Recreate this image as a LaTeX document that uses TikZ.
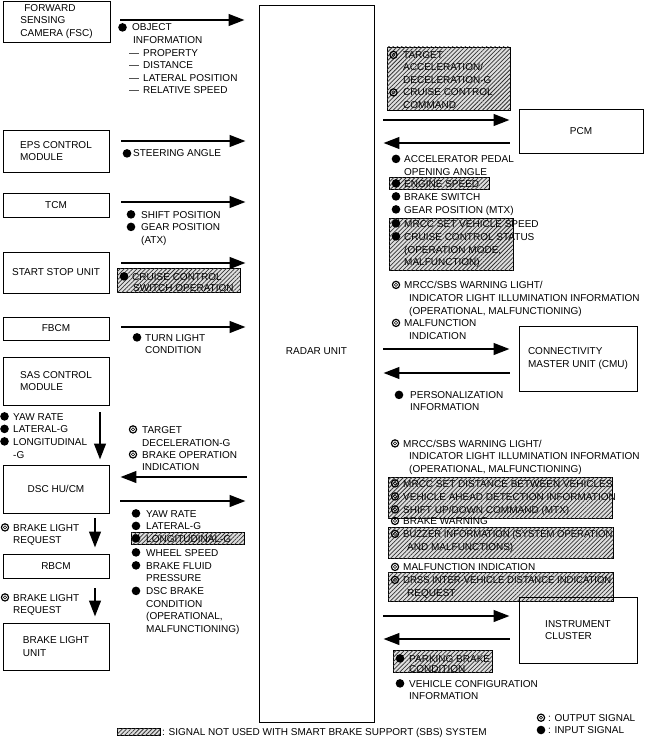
\documentclass[tikz,border=0pt]{standalone}
\usepackage{fontspec}
\usepackage{graphicx}
\setmainfont{Liberation Sans}
\usetikzlibrary{arrows.meta,patterns.meta}
\tikzset{
  box/.style={draw, line width=0.8pt, align=left, inner sep=0pt, font=\fontsize{10}{12.5}\selectfont},
  sig/.style={anchor=base west, inner sep=0pt, font=\fontsize{10}{12}\selectfont},
  arr/.style={line width=2.6pt, -{Triangle[length=16pt,width=11.5pt]}},
  hatch/.style={draw, line width=0.6pt, fill=gray!25,
    postaction={pattern={Lines[angle=45,distance=3pt,line width=0.75pt]}, pattern color=black!80}},
}
\newcommand\IB[2]{\fill (#1,#2-3.6) circle (4.3pt);}
\newcommand\OB[2]{\draw[line width=1.2pt] (#1,#2-3.6) circle (3.6pt);\draw[line width=0.6pt] (#1,#2-3.6) circle (1.6pt);}
\newcommand\TL[4]{\node[sig] (#1) at (#2,#3) {#4};}
\begin{document}
\begin{tikzpicture}[x=1pt,y=-1pt]
\useasboundingbox (0,0) rectangle (650,741);

% ---------- hatched areas (drawn first) ----------
\draw[hatch] (117,268) rectangle (240,292);
\draw[hatch] (131,532) rectangle (244,544);
\draw[hatch] (387,47) rectangle (510,110);
\draw[hatch] (389,177) rectangle (489,189);
\draw[hatch] (389,218) rectangle (513,270);
\draw[hatch] (388,477) rectangle (612,518);
\draw[hatch] (388,527) rectangle (613,558);
\draw[hatch] (388,572) rectangle (613,601);
\draw[hatch] (393,650) rectangle (492,672);
\draw[hatch] (117,728) rectangle (160,735);

% ---------- boxes ----------
\node[box, minimum width=107pt, minimum height=41pt] (fsc) at (56.5,21.5) {\hspace*{4pt}FORWARD\\SENSING\\CAMERA (FSC)};
\node[box, minimum width=106pt, minimum height=42pt] (eps) at (56,151) {EPS CONTROL\\MODULE};
\node[box, minimum width=106pt, minimum height=24pt] (tcm) at (56,205) {TCM};
\node[box, minimum width=106pt, minimum height=41pt] (ssu) at (56,272.5) {START STOP UNIT};
\node[box, minimum width=106pt, minimum height=23pt] (fbcm) at (56,328.5) {FBCM};
\node[box, minimum width=106pt, minimum height=48pt] (sas) at (56,381) {SAS CONTROL\\MODULE};
\node[box, minimum width=106pt, minimum height=48pt] (dsc) at (56,489) {DSC HU/CM};
\node[box, minimum width=106pt, minimum height=24pt] (rbcm) at (56,566) {RBCM};
\node[box, minimum width=106pt, minimum height=47pt] (blu) at (56,646.5) {BRAKE LIGHT\\UNIT};
\node[box, minimum width=115pt, minimum height=717pt] (radar) at (316.5,363.5) {};
\node[sig, anchor=center] (radarlbl) at (316.5,351) {RADAR UNIT};
\node[box, minimum width=124pt, minimum height=44pt] (pcm) at (581,131) {PCM};
\node[box, minimum width=118pt, minimum height=65pt] (cmu) at (578,358.5) {CONNECTIVITY\\MASTER UNIT (CMU)};
\node[box, minimum width=118pt, minimum height=66pt] (ic) at (578,630) {INSTRUMENT\\CLUSTER};

% ---------- arrows ----------
\draw[arr, shorten <=10pt, shorten >=14pt] (fsc.east |- 0,20) -- (radar.west |- 0,20);
\draw[arr, shorten <=12pt, shorten >=13pt] (eps.east |- 0,141) -- (radar.west |- 0,141);
\draw[arr, shorten <=12pt, shorten >=13pt] (tcm.east |- 0,202) -- (radar.west |- 0,202);
\draw[arr, shorten <=12pt, shorten >=13pt] (ssu.east |- 0,263) -- (radar.west |- 0,263);
\draw[arr, shorten <=12pt, shorten >=13pt] (fbcm.east |- 0,327) -- (radar.west |- 0,327);
\draw[arr, shorten <=12pt, shorten >=11pt] (radar.west |- 0,477) -- (dsc.east |- 0,477);
\draw[arr, shorten <=11pt, shorten >=13pt] (dsc.east |- 0,501) -- (radar.west |- 0,501);
\draw[arr, shorten <=7pt, shorten >=5pt] (sas.south -| 100,0) -- (dsc.north -| 100,0);
\draw[arr, shorten <=5pt, shorten >=6pt] (dsc.south -| 95,0) -- (rbcm.north -| 95,0);
\draw[arr, shorten <=10pt, shorten >=6pt] (rbcm.south -| 95,0) -- (blu.north -| 95,0);
\draw[arr, shorten <=9pt, shorten >=9pt] (radar.east |- 0,120) -- (pcm.west |- 0,120);
\draw[arr, shorten <=9pt, shorten >=9pt] (pcm.west |- 0,143) -- (radar.east |- 0,143);
\draw[arr, shorten <=9pt, shorten >=9pt] (radar.east |- 0,349) -- (cmu.west |- 0,349);
\draw[arr, shorten <=9pt, shorten >=9pt] (cmu.west |- 0,373) -- (radar.east |- 0,373);
\draw[arr, shorten <=9pt, shorten >=9pt] (radar.east |- 0,616) -- (ic.west |- 0,616);
\draw[arr, shorten <=9pt, shorten >=9pt] (ic.west |- 0,639) -- (radar.east |- 0,639);

% ---------- FSC signals ----------
\IB{122.5}{31}
\TL{f1}{132}{31}{OBJECT}
\TL{f2}{133}{43.5}{INFORMATION}
\TL{f3}{129}{56.5}{—\hspace{4pt}PROPERTY}
\TL{f4}{129}{69}{—\hspace{4pt}DISTANCE}
\TL{f5}{129}{81.5}{—\hspace{4pt}LATERAL POSITION}
\TL{f6}{129}{94}{—\hspace{4pt}RELATIVE SPEED}
% EPS
\IB{127}{157}
\TL{e1}{133}{157}{STEERING ANGLE}
% TCM
\IB{131}{218}\TL{t1}{141}{218}{SHIFT POSITION}
\IB{131}{230.5}\TL{t2}{141}{230.5}{GEAR POSITION}
\TL{t3}{141}{243}{(ATX)}
% SSU
\IB{124}{280}\TL{s1}{132}{280}{CRUISE CONTROL}
\TL{s2}{133}{291}{SWITCH OPERATION}
% FBCM
\IB{137}{341}\TL{b1}{145}{341}{TURN LIGHT}
\TL{b2}{145}{353.5}{CONDITION}
% SAS -> DSC
\IB{4.5}{420}\TL{y1}{13}{420}{YAW RATE}
\IB{4.5}{432.5}\TL{y2}{13}{432.5}{LATERAL-G}
\IB{4.5}{445}\TL{y3}{13}{445}{LONGITUDINAL}
\TL{y4}{13}{458}{-G}
% Radar -> DSC
\OB{133}{433}\TL{r1}{142}{433}{TARGET}
\TL{r2}{142}{446}{DECELERATION-G}
\OB{133}{458}\TL{r3}{142}{458}{BRAKE OPERATION}
\TL{r4}{142}{470}{INDICATION}
% DSC -> Radar
\IB{136}{517}\TL{d1}{146}{517}{YAW RATE}
\IB{136}{529.5}\TL{d2}{146}{529.5}{LATERAL-G}
\IB{136}{542}\TL{d3}{146}{542}{LONGITUDINAL-G}
\IB{136}{556}\TL{d4}{146}{556}{WHEEL SPEED}
\IB{136}{569}\TL{d5}{146}{569}{BRAKE FLUID}
\TL{d6}{146}{581.5}{PRESSURE}
\IB{136}{594.5}\TL{d7}{146}{594.5}{DSC BRAKE}
\TL{d8}{146}{607}{CONDITION}
\TL{d9}{146}{619.5}{(OPERATIONAL,}
\TL{d10}{146}{632}{MALFUNCTIONING)}
% DSC -> RBCM, RBCM -> BLU
\OB{5}{531}\TL{q1}{13}{531}{BRAKE LIGHT}
\TL{q2}{13}{543.5}{REQUEST}
\OB{5}{601}\TL{q3}{13}{601}{BRAKE LIGHT}
\TL{q4}{13}{613.5}{REQUEST}

% ---------- Radar -> PCM ----------
\OB{393.5}{58.5}\TL{p1}{403}{58.5}{TARGET}
\TL{p2}{403}{71}{ACCELERATION/}
\TL{p3}{403}{83.5}{DECELERATION-G}
\OB{393.5}{96}\TL{p4}{403}{96}{CRUISE CONTROL}
\TL{p5}{403}{108.5}{COMMAND}
% PCM -> Radar
\IB{396}{162.5}\TL{g1}{404}{162.5}{ACCELERATOR PEDAL}
\TL{g2}{404}{175}{OPENING ANGLE}
\IB{396}{187}\TL{g3}{404}{187}{ENGINE SPEED}
\IB{396}{200}\TL{g4}{404}{200}{BRAKE SWITCH}
\IB{396}{213}\TL{g5}{404}{213}{GEAR POSITION (MTX)}
\IB{396}{227}\TL{g6}{404}{227}{MRCC SET VEHICLE SPEED}
\IB{396}{240}\TL{g7}{404}{240}{CRUISE CONTROL STATUS}
\TL{g8}{404}{253}{(OPERATION MODE,}
\TL{g9}{404}{265.5}{MALFUNCTION)}
% Radar -> CMU
\OB{396}{288.5}\TL{c1}{404}{288.5}{MRCC/SBS WARNING LIGHT/}
\TL{c2}{409}{301}{INDICATOR LIGHT ILLUMINATION INFORMATION}
\TL{c3}{409}{314}{(OPERATIONAL, MALFUNCTIONING)}
\OB{396}{326.5}\TL{c4}{404}{326.5}{MALFUNCTION}
\TL{c5}{409}{339}{INDICATION}
% CMU -> Radar
\IB{399}{398.5}\TL{c6}{410}{398.5}{PERSONALIZATION}
\TL{c7}{410}{410.5}{INFORMATION}
% Radar -> IC
\OB{395}{447}\TL{i1}{403}{447}{MRCC/SBS WARNING LIGHT/}
\TL{i2}{409}{459.5}{INDICATOR LIGHT ILLUMINATION INFORMATION}
\TL{i3}{409}{472}{(OPERATIONAL, MALFUNCTIONING)}
\OB{395}{487}\TL{i4}{403}{487}{MRCC SET DISTANCE BETWEEN VEHICLES}
\OB{395}{500}\TL{i5}{403}{500}{VEHICLE AHEAD DETECTION INFORMATION}
\OB{395}{513}\TL{i6}{403}{513}{SHIFT UP/DOWN COMMAND (MTX)}
\OB{395}{524.5}\TL{i7}{403}{524.5}{BRAKE WARNING}
\OB{395}{537.5}\TL{i8}{403}{537.5}{\scalebox{0.95}[1]{BUZZER INFORMATION (SYSTEM OPERATION}}
\TL{i9}{407}{550}{AND MALFUNCTIONS)}
\OB{395}{570.5}\TL{i10}{403}{570.5}{MALFUNCTION INDICATION}
\OB{395}{583.5}\TL{i11}{403}{583.5}{\scalebox{0.95}[1]{DRSS INTER-VEHICLE DISTANCE INDICATION}}
\TL{i12}{407}{596.5}{REQUEST}
% IC -> Radar
\IB{400}{662}\TL{k1}{409}{662}{PARKING BRAKE}
\TL{k2}{409}{672}{CONDITION}
\IB{400}{687}\TL{k3}{409}{687}{VEHICLE CONFIGURATION}
\TL{k4}{409}{699.5}{INFORMATION}

% ---------- legends ----------
\OB{541}{721.3}\TL{lg1}{548}{721.3}{: OUTPUT SIGNAL}
\IB{541}{733.6}\TL{lg2}{548}{733.6}{: INPUT SIGNAL}
\TL{lg3}{162}{735}{: SIGNAL NOT USED WITH SMART BRAKE SUPPORT (SBS) SYSTEM}
\end{tikzpicture}
\end{document}
